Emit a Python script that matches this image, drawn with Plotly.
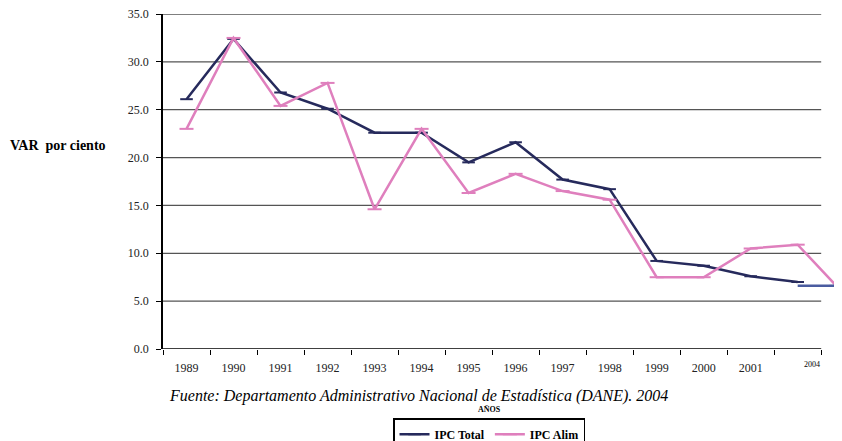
import plotly.graph_objects as go

# ---- data ----
year_labels = ["1989", "1990", "1991", "1992", "1993", "1994", "1995",
               "1996", "1997", "1998", "1999", "2000", "2001"]
last_label = "2004"
cat_pos = list(range(14))            # category centres on the axis
ipc_total = [26.1, 32.4, 26.8, 25.1, 22.6, 22.6, 19.5, 21.6, 17.7, 16.7,
             9.2, 8.7, 7.6, 7.0]
ipc_total_2004 = 6.6
ipc_alim = [23.0, 32.5, 25.4, 27.8, 14.6, 23.0, 16.3, 18.3, 16.5, 15.6,
            7.5, 7.5, 10.5, 10.9, 6.6]
alim_pos = cat_pos + [13.82]
y_ticks = [0, 5, 10, 15, 20, 25, 30, 35]

NAVY = "#262a5c"
PINK = "#df7fbd"
LBLUE = "#4a5ca0"
SERIF = "'Liberation Serif', 'Times New Roman', serif"

fig = go.Figure()
fig.add_trace(go.Scatter(
    x=cat_pos, y=ipc_total, mode="lines+markers", name="<b>IPC Total</b>",
    line=dict(color=NAVY, width=2.5),
    marker=dict(symbol="line-ew", size=9, line=dict(color=NAVY, width=2)),
    cliponaxis=False))
fig.add_trace(go.Scatter(
    x=alim_pos, y=ipc_alim, mode="lines+markers", name="<b>IPC Alim</b>",
    line=dict(color=PINK, width=2.5),
    marker=dict(symbol="line-ew", size=10, line=dict(color=PINK, width=2)),
    cliponaxis=False))
fig.add_trace(go.Scatter(
    x=[cat_pos[-1], 13.9], y=[ipc_total_2004, ipc_total_2004], mode="lines",
    line=dict(color=LBLUE, width=2.5), showlegend=False, hoverinfo="skip"))
# carrier trace for the label axis
fig.add_trace(go.Scatter(x=[0], y=[None], xaxis="x2", showlegend=False,
                         hoverinfo="skip"))

shapes = []
for v in y_ticks[1:]:
    shapes.append(dict(type="line", xref="x", yref="y", x0=-0.5, x1=13.5,
                       y0=v, y1=v, line=dict(color="#555555", width=1.3),
                       layer="below"))
shapes.append(dict(type="line", xref="x", yref="y", x0=-0.5, x1=13.5,
                   y0=0, y1=0, line=dict(color="black", width=1.5)))

annotations = [
    dict(text="<b>VAR  por ciento</b>", xref="paper", yref="paper",
         x=-0.229, y=0.606, xanchor="left", yanchor="middle", showarrow=False,
         font=dict(family=SERIF, size=14, color="black")),
    dict(text="<i>Fuente: Departamento Administrativo Nacional de Estadística (DANE). 2004</i>",
         xref="paper", yref="paper", x=0.378, y=-0.140, xanchor="center",
         yanchor="middle", showarrow=False,
         font=dict(family=SERIF, size=16, color="black")),
    dict(text="<b>AÑOS</b>", xref="paper", yref="paper", x=0.483, y=-0.180,
         xanchor="center", yanchor="middle", showarrow=False,
         font=dict(family=SERIF, size=8, color="black")),
    dict(text=last_label, xref="x", yref="paper", x=cat_pos[-1], y=-0.045,
         xshift=14, xanchor="center", yanchor="middle", showarrow=False,
         font=dict(family=SERIF, size=8, color="black")),
]

# page body has an 8px margin: figure is 834x433 so the page is 842x441
fig.update_layout(
    width=834, height=433,
    margin=dict(l=155, r=2, t=6, b=92, autoexpand=False),
    plot_bgcolor="white", paper_bgcolor="white",
    font=dict(family=SERIF, color="black"),
    xaxis=dict(range=[-0.5, 13.9], tickvals=[i - 0.5 for i in range(15)],
               showticklabels=False, ticks="outside", ticklen=5,
               tickcolor="black", tickwidth=1, showgrid=False,
               zeroline=False, showline=False, fixedrange=True,
               automargin=False),
    xaxis2=dict(range=[-0.5, 13.9], overlaying="x", side="bottom",
                anchor="y", tickvals=cat_pos[:13], ticktext=year_labels,
                ticks="outside", ticklen=8, tickcolor="rgba(0,0,0,0)",
                tickfont=dict(family=SERIF, size=12, color="#222222"),
                showgrid=False, zeroline=False, showline=False,
                automargin=False, ticklabeloverflow="allow"),
    yaxis=dict(range=[0, 35], tickvals=y_ticks,
               ticktext=[f"{v:.1f}" for v in y_ticks],
               ticks="outside", ticklen=5, tickcolor="black",
               ticklabelstandoff=5, ticklabeloverflow="allow",
               tickfont=dict(family=SERIF, size=12, color="#222222"),
               showgrid=False, zeroline=False, showline=True,
               linecolor="black", linewidth=1.5, automargin=False),
    legend=dict(orientation="h", xref="container", yref="container",
                x=0.577, y=0.052, xanchor="center", yanchor="top",
                bordercolor="black", borderwidth=1.3,
                bgcolor="white", font=dict(family=SERIF, size=12),
                itemwidth=30, tracegroupgap=0),
    shapes=shapes, annotations=annotations, showlegend=True,
)

fig.write_html("out.html")
